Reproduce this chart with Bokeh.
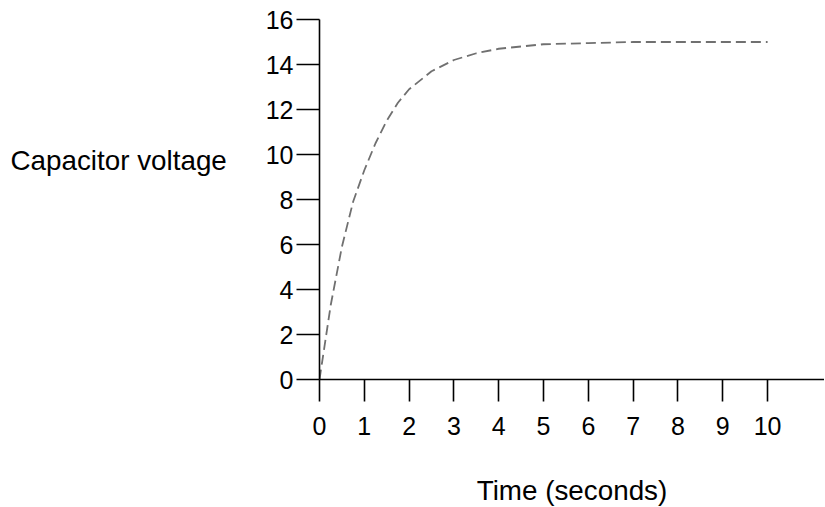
from bokeh.plotting import figure
from bokeh.models import Range1d, Label, FixedTicker
from bokeh.embed import file_html
from bokeh.resources import INLINE

# Data
time_s = [0, 0.25, 0.5, 0.75, 1, 1.25, 1.5, 1.75, 2, 2.5, 3, 3.5, 4, 5, 6, 7, 8, 9, 10]
voltage = [0, 3.3, 5.9, 7.9, 9.3, 10.5, 11.5, 12.3, 12.9, 13.7, 14.2, 14.5, 14.7, 14.9, 14.95, 15.0, 15.0, 15.0, 15.0]
x_ticks = [0, 1, 2, 3, 4, 5, 6, 7, 8, 9, 10]
y_ticks = [0, 2, 4, 6, 8, 10, 12, 14, 16]
y_title = "Capacitor voltage"
x_title = "Time (seconds)"

FONT = "Liberation Sans"
TITLE_SIZE = "27.8px"

p = figure(width=824, height=506, output_backend="svg", toolbar_location=None,
           x_range=Range1d(0, 11.27), y_range=Range1d(0, 16),
           min_border_left=319, min_border_right=0, min_border_top=19, min_border_bottom=127)
p.outline_line_color = None
p.xgrid.visible = False
p.ygrid.visible = False
p.background_fill_color = "white"
p.border_fill_color = "white"

p.line(time_s, voltage, line_color="#707070", line_width=1.8, line_dash="10 5")

for ax in (p.xaxis[0], p.yaxis[0]):
    ax.axis_line_color = "black"
    ax.axis_line_width = 1.6
    ax.major_tick_line_color = "black"
    ax.major_tick_line_width = 1.6
    ax.major_tick_in = 0
    ax.minor_tick_line_color = None
    ax.major_label_text_font = FONT
    ax.major_label_text_font_size = "25px"
    ax.major_label_text_color = "black"

p.xaxis[0].ticker = FixedTicker(ticks=x_ticks)
p.yaxis[0].ticker = FixedTicker(ticks=y_ticks)
p.xaxis[0].major_tick_out = 22
p.yaxis[0].major_tick_out = 23
p.xaxis[0].major_label_standoff = 15
p.yaxis[0].major_label_standoff = 3

p.add_layout(Label(x=252.5, y=-22, x_units="screen", y_units="screen", text=x_title,
                   text_font=FONT, text_font_size=TITLE_SIZE,
                   text_align="center", text_baseline="middle", text_color="black"), "below")
p.add_layout(Label(x=-36, y=219, x_units="screen", y_units="screen", text=y_title,
                   text_font=FONT, text_font_size=TITLE_SIZE,
                   text_align="left", text_baseline="middle", text_color="black"), "left")

open("out.html", "w").write(file_html(p, INLINE))
